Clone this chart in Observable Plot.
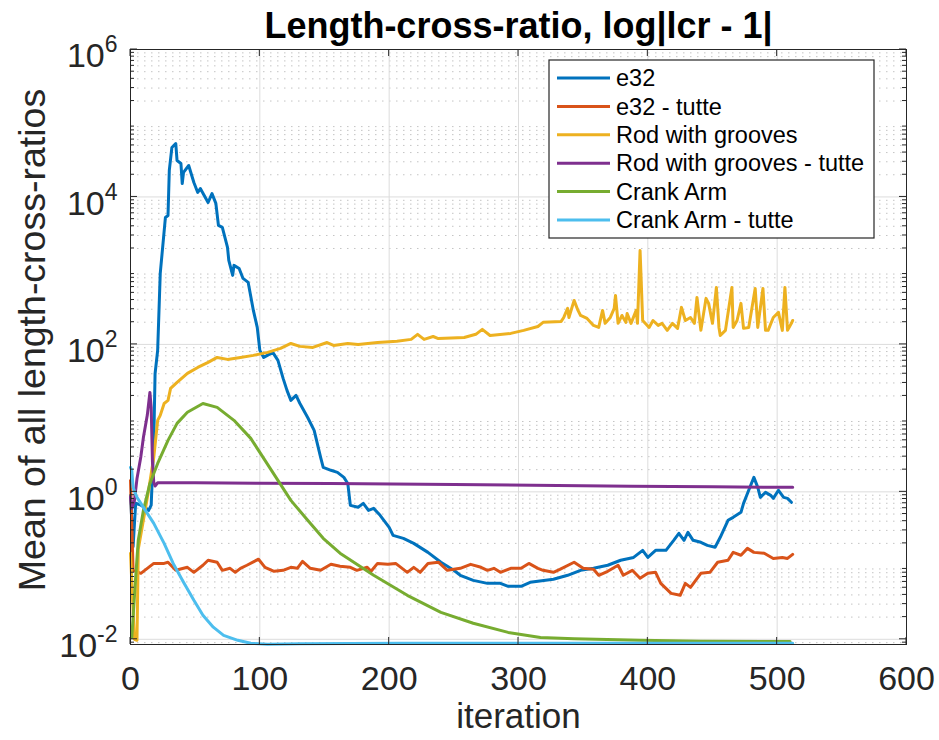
<!DOCTYPE html>
<html><head><meta charset="utf-8">
<script src="https://cdn.jsdelivr.net/npm/d3@7"></script>
<script src="https://cdn.jsdelivr.net/npm/@observablehq/plot@0.6"></script>
<style>
body{margin:0;background:#fff;}
svg{font-family:"Liberation Sans",Arial,Helvetica,sans-serif;}
</style>
</head><body><div id="chart"></div>
<script>
const titleText = "Length-cross-ratio, log|lcr - 1|";
const xLabel = "iteration";
const yLabel = "Mean of all length-cross-ratios";
const seriesNames = ["e32","e32 - tutte","Rod with grooves","Rod with grooves - tutte","Crank Arm","Crank Arm - tutte"];
const seriesColors = ["#0072BD","#D95319","#EDB120","#7E2F8E","#77AC30","#4DBEEE"];
const xTicks = [0,100,200,300,400,500,600];
const yTicks = [1e-2,1e0,1e2,1e4,1e6];

const e32It = [0,2,4,8,12,14,16,18,19,21,23,27,29,30,32,35,36,39,40,41,45,49,52,54,60,63,66,68,71,75,76,79,80,84,87,91,95,98,100,103,110,114,118,121,124,128,131,137,142,147,149,155,160,165,168,170,176,180,184,188,193,200,203,211,219,230,240,250,255,265,276,286,292,302,309,327,338,348,358,369,379,389,396,400,406,414,420,424,428,431,435,441,446,452,456,462,466,472,474,478,482,485,487,491,495,497,501,505,508,511];
const e32Val = [0.9,0.18,0.70,0.66,0.60,0.56,0.66,5.0,40,83,919,5270,5610,22900,46900,53100,31200,28400,15200,21500,26700,15700,11500,13000,8410,11100,8170,4110,3860,2070,1380,863,1180,1070,785,693,289,170,83,66.6,78,60.7,34.6,23.8,17.4,20.3,15.8,10.2,6.82,2.94,2.15,1.96,1.84,1.57,1.30,0.656,0.617,0.698,0.561,0.597,0.48,0.33,0.257,0.234,0.20,0.151,0.111,0.0863,0.0738,0.063,0.0574,0.0574,0.0523,0.0523,0.0593,0.0651,0.0738,0.0863,0.0918,0.101,0.118,0.129,0.161,0.129,0.161,0.161,0.22,0.274,0.22,0.282,0.22,0.207,0.188,0.177,0.242,0.411,0.451,0.527,0.698,1.05,1.57,1.15,0.842,0.985,0.897,0.816,1.05,0.842,0.816,0.721];

const e32TutteIt = [0,2,8,13,18,26,29,35,44,49,56,60,67,71,77,81,85,90,99,104,111,118,124,129,133,139,147,155,162,170,175,183,186,191,199,205,214,219,224,230,238,245,255,263,271,276,281,286,294,302,308,315,319,327,332,343,350,358,362,369,377,381,388,394,400,406,410,418,425,429,433,441,448,454,462,466,472,477,482,490,497,504,508,512];
const e32TutteVal = [1.43,0.0862,0.0785,0.0918,0.107,0.107,0.111,0.0862,0.0947,0.081,0.101,0.118,0.111,0.0862,0.0918,0.081,0.0918,0.101,0.122,0.0947,0.0836,0.0862,0.0947,0.0918,0.114,0.0918,0.0862,0.104,0.0977,0.0947,0.0862,0.0947,0.0836,0.107,0.104,0.107,0.081,0.0947,0.081,0.107,0.111,0.0862,0.0918,0.104,0.0947,0.0862,0.0918,0.081,0.0918,0.0918,0.107,0.0918,0.0862,0.081,0.089,0.111,0.0918,0.089,0.0738,0.0836,0.101,0.0738,0.0862,0.0672,0.0785,0.081,0.0574,0.042,0.0395,0.0574,0.0507,0.0785,0.081,0.111,0.118,0.151,0.138,0.171,0.151,0.147,0.125,0.129,0.125,0.142];

const rodIt = [0,3,5,6,9,14,18,21,23,26,29,31,36,44,52,60,67,75,85,95,106,116,124,131,141,152,157,168,176,191,206,217,222,227,234,238,258,267,272,278,294,304,315,319,333,335,338,339,343,346,348,353,358,362,365,367,371,374,375,377,380,383,384,387,391,392,394,396,401,404,408,411,415,419,423,426,429,433,436,438,441,445,447,450,453,455,456,460,465,466,469,472,474,478,483,485,489,491,493,497,501,504,506,508,511,512];
const rodVal = [0.147,0.01,0.0097,0.166,0.33,1.05,2.94,9.33,10.9,15.8,17.4,25.3,30.5,40.4,48.7,57,66.6,62.6,66.6,71,78,88.3,103,94,91,106,96.9,103,100,106,110,117,137,117,128,120,124,137,160,132,141,155,175,199,205,232,308,232,395,289,247,225,181,170,289,193,232,308,461,193,247,199,263,193,289,193,1880,211,170,211,181,193,155,193,165,318,211,232,193,434,155,421,360,193,593,170,132,155,593,170,211,360,165,170,574,170,574,155,155,232,272,155,593,155,193,211];

const rodTutteIt = [0,1,3,5,8,10,13,15,16,17,18,19,21,50,100,155,250,387,450,512];
const rodTutteVal = [0.85,0.6,0.75,1.5,3,5.5,11,22.3,14,2.5,1.35,1.2,1.33,1.33,1.31,1.30,1.26,1.19,1.17,1.15];

const crankIt = [1,4,6,10,15,21,29,36,44,56,67,80,93,104,114,124,137,149,162,188,214,240,265,292,317,343,394,441,510];
const crankVal = [0.0106,0.0693,0.22,0.561,1.30,2.43,4.99,8.49,12.0,15.8,14.0,9.33,5.31,2.67,1.43,0.767,0.411,0.234,0.147,0.0738,0.0395,0.0232,0.0165,0.0124,0.0106,0.0102,0.0097,0.0094,0.0093];

const crankTutteIt = [0,1,2,5,10,18,26,33,41,49,56,64,72,83,93,106,131,209,512];
const crankTutteVal = [2.15,1.95,1.15,0.84,0.617,0.374,0.20,0.107,0.0593,0.0338,0.0212,0.0146,0.0113,0.00969,0.00883,0.00855,0.0087,0.00883,0.00883];

const seriesIts = [e32It,e32TutteIt,rodIt,rodTutteIt,crankIt,crankTutteIt];
const seriesVals = [e32Val,e32TutteVal,rodVal,rodTutteVal,crankVal,crankTutteVal];

const rows = [];
seriesNames.forEach((name, k) => {
  const its = seriesIts[k], vals = seriesVals[k];
  const n = Math.min(its.length, vals.length);
  for (let i = 0; i < n; i++) rows.push({series: name, it: its[i], v: vals[i]});
});

const yMinor = [];
for (let e = -3; e < 6; e++) for (let m = 2; m <= 9; m++) {
  const v = m * Math.pow(10, e);
  if (v >= 0.0085 && v < 1e6) yMinor.push(v);
}

const font = '"Liberation Sans",Arial,Helvetica,sans-serif';
const chart = Plot.plot({
  width: 939, height: 740,
  marginLeft: 130, marginRight: 33, marginTop: 49, marginBottom: 96,
  style: {fontFamily: font, background: "white", color: "#262626", overflow: "visible"},
  x: {domain: [0, 600]},
  y: {type: "log", domain: [0.0085, 1e6]},
  color: {domain: seriesNames, range: seriesColors},
  marks: [
    Plot.ruleY(yMinor, {stroke: "#c4c4c4", strokeDasharray: "1.5,5.5", strokeWidth: 1}),
    Plot.ruleY(yTicks, {stroke: "#dcdcdc", strokeWidth: 1}),
    Plot.ruleX(xTicks.slice(1, -1), {stroke: "#dcdcdc", strokeWidth: 1}),
    Plot.line(rows, {x: "it", y: "v", z: "series", stroke: "series", strokeWidth: 3, strokeLinejoin: "round", strokeLinecap: "round"}),
    Plot.frame({stroke: "#262626", strokeWidth: 1}),
    Plot.axisX({ticks: xTicks, tickSize: 0, tickPadding: 21, fontSize: 34, label: null, tickFormat: d => String(d)}),
    Plot.axisY({ticks: [], label: null, tickSize: 0}),
    Plot.text(yTicks, {y: d => d, text: d => "E" + Math.round(Math.log10(d)), frameAnchor: "left", lineAnchor: "middle", dx: -13, dy: 7, textAnchor: "end", fontSize: 34, fill: "#262626"}),
    Plot.text([xLabel], {frameAnchor: "bottom", lineAnchor: "middle", textAnchor: "middle", dy: 72, fontSize: 35, fill: "#262626"}),
    Plot.text([yLabel], {frameAnchor: "left", lineAnchor: "middle", textAnchor: "middle", dx: -98, dy: -7, rotate: -90, fontSize: 37.5, fill: "#262626"}),
    Plot.text([titleText], {frameAnchor: "top", lineAnchor: "middle", textAnchor: "middle", dy: -23, fontSize: 36, fontWeight: "bold", fill: "#000"})
  ]
});
document.getElementById("chart").appendChild(chart);

const svg = d3.select(chart);
const sx = chart.scale("x"), sy = chart.scale("y");
const X = v => sx.apply(v), Y = v => sy.apply(v);

svg.selectAll("text").each(function() {
  const s = this.textContent;
  if (/^E-?\d+$/.test(s)) {
    const t = d3.select(this);
    t.text("10");
    t.append("tspan").attr("dy", -15).attr("font-size", 23).text(s.slice(1));
  }
});

const tg = svg.append("g").attr("stroke", "#262626").attr("stroke-width", 1);
const x0 = X(0), x1 = X(600), yb = Y(0.0085), yt = Y(1e6);
yTicks.forEach(v => {
  tg.append("line").attr("x1", x0).attr("x2", x0 + 7).attr("y1", Y(v)).attr("y2", Y(v));
  tg.append("line").attr("x1", x1).attr("x2", x1 - 7).attr("y1", Y(v)).attr("y2", Y(v));
});
yMinor.forEach(v => {
  tg.append("line").attr("x1", x0).attr("x2", x0 + 4).attr("y1", Y(v)).attr("y2", Y(v));
  tg.append("line").attr("x1", x1).attr("x2", x1 - 4).attr("y1", Y(v)).attr("y2", Y(v));
});
xTicks.forEach(v => {
  tg.append("line").attr("x1", X(v)).attr("x2", X(v)).attr("y1", yb).attr("y2", yb - 7);
  tg.append("line").attr("x1", X(v)).attr("x2", X(v)).attr("y1", yt).attr("y2", yt + 7);
});

const lg = svg.append("g").attr("transform", "translate(549,60)");
lg.append("rect").attr("width", 325).attr("height", 178).attr("fill", "white").attr("stroke", "#262626").attr("stroke-width", 1.2);
seriesNames.forEach((name, i) => {
  const cy = 18 + i * 28.4;
  lg.append("line").attr("x1", 8).attr("x2", 61).attr("y1", cy).attr("y2", cy).attr("stroke", seriesColors[i]).attr("stroke-width", 3);
  lg.append("text").attr("x", 67).attr("y", cy).attr("dy", "0.35em").attr("text-anchor", "start").attr("font-size", 23.5).attr("fill", "#000").text(name);
});
</script>
</body></html>
